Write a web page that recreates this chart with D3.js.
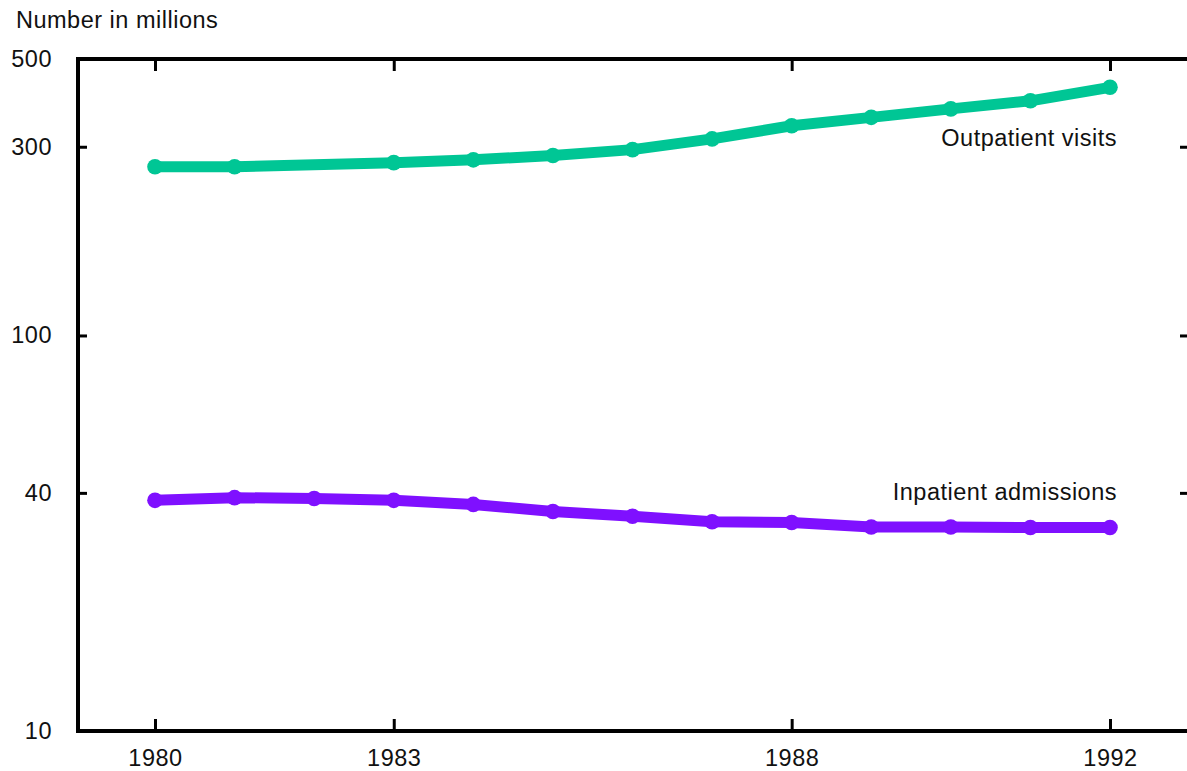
<!DOCTYPE html>
<html>
<head>
<meta charset="utf-8">
<script src="https://cdn.jsdelivr.net/npm/d3@7"></script>
<style>
  body { margin: 0; background: #fff; }
  svg text { font-family: "Liberation Sans", Arial, sans-serif; fill: #111; }
</style>
</head>
<body>
<svg id="chart" width="1187" height="771"></svg>
<script>
// data (millions)
const years = [1980, 1981, 1982, 1983, 1984, 1985, 1986, 1987, 1988, 1989, 1990, 1991, 1992];
const outpatient = [267, 267, null, 273.5, 278, 285, 295, 314, 339, 356, 374, 392, 424];
const inpatient = [38.3, 38.9, 38.7, 38.3, 37.4, 35.9, 34.9, 33.8, 33.65, 32.8, 32.8, 32.7, 32.7];
const yTicks = [10, 40, 100, 300, 500];
const xTicks = [1980, 1983, 1988, 1992];

const svg = d3.select('#chart');

// plot frame
const frameLeft = 78, frameRight = 1190, frameTop = 59, frameBottom = 731;

const x = d3.scaleLinear()
  .domain([1980, 1992])
  .range([155, 1110]);

const y = d3.scaleLog()
  .domain([10, 500])
  .range([frameBottom, frameTop]);

const fontSize = '23.5px';
const spacing = '0.5px';

// frame
svg.append('rect')
  .attr('x', frameLeft)
  .attr('y', frameTop)
  .attr('width', frameRight - frameLeft)
  .attr('height', frameBottom - frameTop)
  .attr('fill', 'none')
  .attr('stroke', '#000')
  .attr('stroke-width', 4);

// left axis with labels
const gLeft = svg.append('g')
  .attr('transform', `translate(${frameLeft},0)`)
  .call(d3.axisLeft(y).tickValues(yTicks).tickFormat(d3.format('d')).tickSizeInner(-9).tickSizeOuter(0).tickPadding(26));

// right axis, ticks only
const gRight = svg.append('g')
  .attr('transform', `translate(${frameRight},0)`)
  .call(d3.axisRight(y).tickValues([40, 100, 300]).tickFormat('').tickSizeInner(-10).tickSizeOuter(0));

// bottom axis with labels
const gBottom = svg.append('g')
  .attr('transform', `translate(0,${frameBottom})`)
  .call(d3.axisBottom(x).tickValues(xTicks).tickFormat(d3.format('d')).tickSizeInner(-12).tickSizeOuter(0).tickPadding(18));

// top axis, ticks only
const gTop = svg.append('g')
  .attr('transform', `translate(0,${frameTop})`)
  .call(d3.axisTop(x).tickValues(xTicks).tickFormat('').tickSizeInner(-12).tickSizeOuter(0));

[gLeft, gRight, gBottom, gTop].forEach(g => {
  g.select('.domain').remove();
  g.selectAll('.tick line').attr('stroke', '#000').attr('stroke-width', 3);
  g.selectAll('.tick text')
    .attr('fill', '#111')
    .style('font-size', fontSize)
    .style('font-family', '"Liberation Sans", Arial, sans-serif')
    .style('letter-spacing', spacing);
});

// y title
svg.append('text')
  .attr('x', 16)
  .attr('y', 28)
  .style('font-size', fontSize)
  .style('letter-spacing', spacing)
  .text('Number in millions');

// series
const series = [
  { name: 'Outpatient visits', values: outpatient, color: '#00c695', labelY: 146 },
  { name: 'Inpatient admissions', values: inpatient, color: '#7f10ff', labelY: 500 }
];

const line = d3.line()
  .x(d => x(d.year))
  .y(d => y(d.value));

series.forEach(s => {
  const pts = years
    .map((yr, i) => ({ year: yr, value: s.values[i] }))
    .filter(d => d.value != null);

  svg.append('path')
    .datum(pts)
    .attr('d', line)
    .attr('fill', 'none')
    .attr('stroke', s.color)
    .attr('stroke-width', 11)
    .attr('stroke-linejoin', 'round');

  svg.append('g')
    .selectAll('circle')
    .data(pts)
    .enter()
    .append('circle')
    .attr('cx', d => x(d.year))
    .attr('cy', d => y(d.value))
    .attr('r', 7.8)
    .attr('fill', s.color);

  svg.append('text')
    .attr('x', 1117)
    .attr('y', s.labelY)
    .attr('text-anchor', 'end')
    .style('font-size', fontSize)
    .style('letter-spacing', spacing)
    .text(s.name);
});
</script>
</body>
</html>
